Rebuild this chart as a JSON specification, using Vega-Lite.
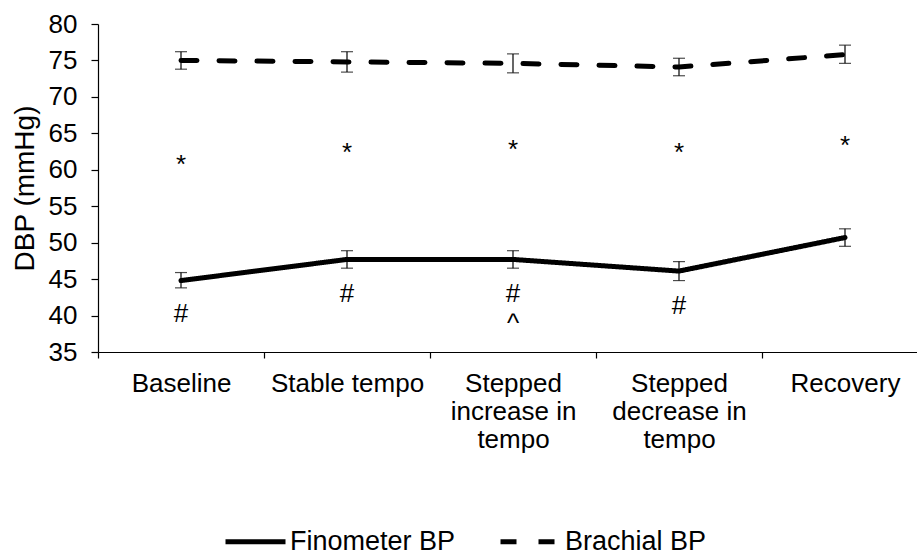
{
  "$schema": "https://vega.github.io/schema/vega-lite/v6.json",
  "width": 819,
  "height": 328,
  "autosize": {"type": "none"},
  "padding": {"left": 98, "top": 24, "right": 0, "bottom": 204},
  "background": "white",
  "config": {
    "font": "Liberation Sans",
    "view": {"stroke": null},
    "axis": {"grid": false, "domainColor": "black", "tickColor": "black", "labelColor": "black", "titleColor": "black", "domainWidth": 1.2, "tickWidth": 1.2, "labelOverlap": false, "labelBound": false, "labelFlush": false},
    "axisY": {"labelOverlap": false, "tickCount": 12, "tickSize": 7, "labelPadding": 14, "labelFontSize": 26, "titleFontSize": 28, "titleFontWeight": "normal", "titlePadding": 9}
  },
  "datasets": {
    "bp": [
      {"cond": "Baseline", "series": "Finometer BP", "mean": 44.8, "lo": 43.8, "hi": 45.9},
      {"cond": "Stable tempo", "series": "Finometer BP", "mean": 47.7, "lo": 46.5, "hi": 48.9},
      {"cond": "Stepped increase in tempo", "series": "Finometer BP", "mean": 47.7, "lo": 46.5, "hi": 48.9},
      {"cond": "Stepped decrease in tempo", "series": "Finometer BP", "mean": 46.1, "lo": 44.8, "hi": 47.4},
      {"cond": "Recovery", "series": "Finometer BP", "mean": 50.7, "lo": 49.5, "hi": 51.9},
      {"cond": "Baseline", "series": "Brachial BP", "mean": 75.0, "lo": 73.8, "hi": 76.2},
      {"cond": "Stable tempo", "series": "Brachial BP", "mean": 74.8, "lo": 73.4, "hi": 76.2},
      {"cond": "Stepped increase in tempo", "series": "Brachial BP", "mean": 74.6, "lo": 73.3, "hi": 75.9},
      {"cond": "Stepped decrease in tempo", "series": "Brachial BP", "mean": 74.1, "lo": 72.9, "hi": 75.3},
      {"cond": "Recovery", "series": "Brachial BP", "mean": 75.8, "lo": 74.6, "hi": 77.1}
    ],
    "ann": [
      {"cond": "Baseline", "mark": "*", "pos": 59.55},
      {"cond": "Stable tempo", "mark": "*", "pos": 61.2},
      {"cond": "Stepped increase in tempo", "mark": "*", "pos": 61.6},
      {"cond": "Stepped decrease in tempo", "mark": "*", "pos": 61.25},
      {"cond": "Recovery", "mark": "*", "pos": 62.2},
      {"cond": "Baseline", "mark": "#", "pos": 39.1},
      {"cond": "Stable tempo", "mark": "#", "pos": 41.8},
      {"cond": "Stepped increase in tempo", "mark": "#", "pos": 41.8},
      {"cond": "Stepped increase in tempo", "mark": "^", "pos": 37.8},
      {"cond": "Stepped decrease in tempo", "mark": "#", "pos": 40.2}
    ]
  },
  "encoding": {
    "x": {
      "field": "cond",
      "type": "nominal",
      "sort": ["Baseline", "Stable tempo", "Stepped increase in tempo", "Stepped decrease in tempo", "Recovery"],
      "scale": {"range": [0, 830], "paddingInner": 0, "paddingOuter": 0},
      "axis": {
        "title": null,
        "labelAngle": 0,
        "tickBand": "extent",
        "tickSize": 6,
        "labelPadding": 12,
        "labelFontSize": 26,
        "labelLineHeight": 28,
        "labelLimit": 0,
        "labelExpr": "datum.value == 'Stepped increase in tempo' ? ['Stepped', 'increase in', 'tempo'] : datum.value == 'Stepped decrease in tempo' ? ['Stepped', 'decrease in', 'tempo'] : datum.label"
      }
    },
    "y": {
      "field": "mean",
      "type": "quantitative",
      "scale": {"domain": [35, 80], "nice": false, "zero": false},
      "axis": {"values": [35, 40, 45, 50, 55, 60, 65, 70, 75, 80], "tickCount": 12, "labelOverlap": false, "title": "DBP (mmHg)"}
    }
  },
  "layer": [
    {
      "data": {"name": "bp"},
      "mark": {"type": "rule", "color": "black", "strokeWidth": 1.2},
      "encoding": {
        "y": {"field": "lo", "type": "quantitative", "scale": {"domain": [35, 80], "nice": false, "zero": false},
          "axis": {"values": [35, 40, 45, 50, 55, 60, 65, 70, 75, 80], "tickCount": 12, "labelOverlap": false, "title": "DBP (mmHg)"}},
        "y2": {"field": "hi"}
      }
    },
    {
      "data": {"name": "bp"},
      "mark": {"type": "tick", "color": "black", "size": 12, "thickness": 1.2},
      "encoding": {"y": {"field": "lo", "type": "quantitative", "axis": {"values": [35, 40, 45, 50, 55, 60, 65, 70, 75, 80], "tickCount": 12, "labelOverlap": false, "title": "DBP (mmHg)"}}}
    },
    {
      "data": {"name": "bp"},
      "mark": {"type": "tick", "color": "black", "size": 12, "thickness": 1.2},
      "encoding": {"y": {"field": "hi", "type": "quantitative", "axis": {"values": [35, 40, 45, 50, 55, 60, 65, 70, 75, 80], "tickCount": 12, "labelOverlap": false, "title": "DBP (mmHg)"}}}
    },
    {
      "data": {"name": "bp"},
      "mark": {"type": "line", "color": "black", "strokeWidth": 5, "strokeCap": "round", "strokeJoin": "round"},
      "encoding": {
        "strokeDash": {
          "field": "series",
          "type": "nominal",
          "scale": {"domain": ["Finometer BP", "Brachial BP"], "range": [[1, 0], [16, 22]]},
          "legend": {
            "title": null,
            "orient": "none",
            "direction": "horizontal",
            "legendX": 125,
            "legendY": 485,
            "symbolType": "stroke",
            "symbolSize": 3600,
            "symbolStrokeWidth": 5,
            "symbolStrokeColor": "black",
            "labelFontSize": 27,
            "labelColor": "black",
            "labelOffset": 2,
            "labelLimit": 0,
            "columnPadding": 34,
            "padding": 0
          }
        }
      }
    },
    {
      "data": {"name": "ann"},
      "mark": {"type": "text", "fontSize": 26, "color": "black", "baseline": "alphabetic", "align": "center"},
      "encoding": {
        "y": {"field": "pos", "type": "quantitative", "axis": {"values": [35, 40, 45, 50, 55, 60, 65, 70, 75, 80], "tickCount": 12, "labelOverlap": false, "title": "DBP (mmHg)"}},
        "text": {"field": "mark"}
      }
    }
  ]
}
